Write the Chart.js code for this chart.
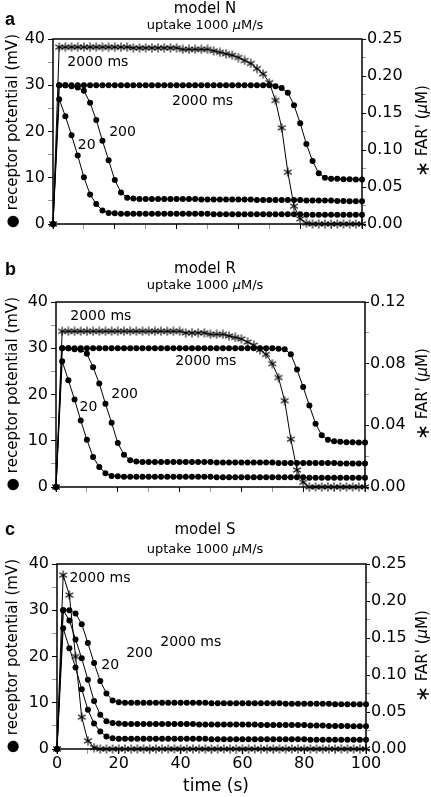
<!DOCTYPE html>
<html lang="en">
<head>
<meta charset="UTF-8">
<title>Receptor potential and FAR' - models N, R, S</title>
<script src="https://cdn.jsdelivr.net/npm/chart.js"></script>
<style>
  body { margin: 0; background: #fff; color: #000; font-family: 'DejaVu Sans', sans-serif; }
  #page { position: relative; width: 431px; height: 797px; overflow: hidden; }
  canvas { position: absolute; left: 0; }
  .txt { position: absolute; white-space: nowrap; line-height: 1; }
  .letter { font-family: 'Liberation Sans', Arial, sans-serif; font-weight: bold; font-size: 18px; left: 5px; }
  .title { font-size: 15px; width: 410px; left: 0; text-align: center; }
  .sub { font-size: 13px; width: 410px; left: 0; text-align: center; }
  .ytitle { font-size: 15px; width: 230px; height: 18px; line-height: 18px; text-align: center; transform: rotate(-90deg); }
  .ast { font-size: 19px; vertical-align: -2px; }
  .xtitle { font-size: 17px; width: 200px; left: 116px; top: 777px; text-align: center; }
</style>
</head>
<body>
<div id="page">
  <canvas id="panelA" width="431" height="245" style="top:0px"></canvas>
  <canvas id="panelB" width="431" height="245" style="top:262px"></canvas>
  <canvas id="panelC" width="431" height="275" style="top:522px"></canvas>

  <!-- panel a -->
  <div class="txt letter" style="top:10px">a</div>
  <div class="txt title" style="top:0.5px">model N</div>
  <div class="txt sub" style="top:18px">uptake 1000 <i>μ</i>M/s</div>
  <div class="txt ytitle" style="left:-103px;top:122px">● receptor potential (mV)</div>
  <div class="txt ytitle" style="left:307px;top:122px"><span class="ast">∗</span> FAR' (<i>μ</i>M)</div>

  <!-- panel b -->
  <div class="txt letter" style="top:260px">b</div>
  <div class="txt title" style="top:260.5px">model R</div>
  <div class="txt sub" style="top:278px">uptake 1000 <i>μ</i>M/s</div>
  <div class="txt ytitle" style="left:-103px;top:385px">● receptor potential (mV)</div>
  <div class="txt ytitle" style="left:307px;top:385px"><span class="ast">∗</span> FAR' (<i>μ</i>M)</div>

  <!-- panel c -->
  <div class="txt letter" style="top:520px">c</div>
  <div class="txt title" style="top:521.5px">model S</div>
  <div class="txt sub" style="top:541.5px">uptake 1000 <i>μ</i>M/s</div>
  <div class="txt ytitle" style="left:-103px;top:647px">● receptor potential (mV)</div>
  <div class="txt ytitle" style="left:307px;top:647px"><span class="ast">∗</span> FAR' (<i>μ</i>M)</div>
  <div class="txt xtitle">time (s)</div>
</div>

<script>
// time of each sample (s)
const TIME = [0, 2, 4, 6, 8, 10, 12, 14, 16, 18, 20, 22, 24, 26, 28, 30, 32, 34, 36, 38, 40,
  42, 44, 46, 48, 50, 52, 54, 56, 58, 60, 62, 64, 66, 68, 70, 72, 74, 76, 78, 80,
  82, 84, 86, 88, 90, 92, 94, 96, 98, 100];

// model N - receptor potential (mV) for 20, 200, 2000 ms stimuli, and FAR' (uM) for 2000 ms
const N_20 = [0, 27.0, 23.3, 19.2, 14.8, 10.1, 6.4, 4.3, 2.9, 2.4, 2.3,
  2.2, 2.2, 2.2, 2.2, 2.2, 2.2, 2.2, 2.2, 2.2, 2.2, 2.2, 2.2, 2.2, 2.2, 2.2,
  2.1, 2.1, 2.1, 2.1, 2.1, 2.1, 2.1, 2.1, 2.1, 2.1, 2.1, 2.1, 2.1, 2.1, 2.1,
  2.0, 2.0, 2.0, 2.0, 2.0, 2.0, 2.0, 2.0, 2.0, 2.0];
const N_200 = [0, 30.0, 30.0, 29.8, 29.5, 28.8, 26.2, 22.5, 18.0, 13.8, 9.5, 6.8, 5.7, 5.5,
  5.4, 5.4, 5.4, 5.4, 5.4, 5.4, 5.4, 5.4, 5.4, 5.4,
  5.3, 5.3, 5.3, 5.3, 5.3, 5.3, 5.3, 5.3, 5.3,
  5.2, 5.2, 5.2, 5.2, 5.2, 5.2, 5.2, 5.2,
  5.1, 5.1, 5.1, 5.1, 5.1, 5.0, 5.0, 4.9, 4.9, 4.9];
const N_2000 = [0, 30.0, 30.0, 30.0, 30.0, 30.0, 30.0, 30.0, 30.0, 30.0, 30.0,
  30.0, 30.0, 30.0, 30.0, 30.0, 30.0, 30.0, 30.0, 30.0, 30.0,
  30.0, 30.0, 30.0, 30.0, 30.0, 30.0, 30.0, 30.0, 30.0, 30.0,
  30.0, 30.0, 30.0, 30.0, 30.0,
  29.8, 29.4, 28.4, 25.7, 21.8, 17.3, 13.6, 11.0, 10.0, 9.8, 9.8, 9.7, 9.7, 9.6, 9.6];
const N_FAR = [0, 0.239, 0.239, 0.239, 0.239, 0.239, 0.239, 0.239, 0.239, 0.239, 0.239, 0.239, 0.239,
  0.238, 0.238, 0.238, 0.238, 0.238, 0.238, 0.238, 0.238,
  0.236, 0.236, 0.236, 0.236, 0.236,
  0.234, 0.232, 0.230, 0.228, 0.225, 0.221, 0.217, 0.210, 0.203, 0.191, 0.167, 0.130,
  0.070, 0.024, 0.007, 0.001,
  0, 0, 0, 0, 0, 0, 0, 0, 0];

// model R
const R_20 = [0, 27.2, 23.1, 18.9, 14.4, 10.2, 6.5, 4.3, 3.0, 2.4, 2.3,
  2.2, 2.2, 2.2, 2.2, 2.2, 2.2, 2.2, 2.2, 2.2, 2.2, 2.2, 2.2, 2.2, 2.2, 2.2,
  2.1, 2.1, 2.1, 2.1, 2.1, 2.1, 2.1, 2.1, 2.1, 2.1, 2.1, 2.1, 2.1, 2.1, 2.1,
  2.0, 2.0, 2.0, 2.0, 2.0, 2.0, 2.0, 2.0, 2.0, 2.0];
const R_200 = [0, 30.0, 30.0, 29.8, 29.7, 28.8, 25.9, 22.4, 18.0, 13.9, 9.5, 7.0, 5.8, 5.5,
  5.4, 5.4, 5.4, 5.4, 5.4, 5.4, 5.4, 5.4, 5.4, 5.4, 5.4, 5.4,
  5.3, 5.3, 5.3, 5.3, 5.3, 5.3, 5.3, 5.3, 5.3, 5.3,
  5.2, 5.2, 5.2, 5.2, 5.2, 5.2, 5.2, 5.2, 5.2, 5.2,
  5.1, 5.1, 5.1, 5.1, 5.1];
const R_2000 = [0, 30.0, 30.0, 30.0, 30.0, 30.0, 30.0, 30.0, 30.0, 30.0, 30.0,
  30.0, 30.0, 30.0, 30.0, 30.0, 30.0, 30.0, 30.0, 30.0, 30.0,
  30.0, 30.0, 30.0, 30.0, 30.0, 30.0, 30.0, 30.0, 30.0, 30.0,
  30.0, 30.0, 30.0, 30.0, 30.0,
  29.9, 29.8, 28.7, 25.4, 21.6, 17.6, 13.7, 11.2, 10.2, 9.9, 9.8, 9.7, 9.7, 9.6, 9.6];
const R_FAR = [0, 0.101, 0.101, 0.101, 0.101, 0.101, 0.101, 0.101, 0.101, 0.101, 0.101,
  0.101, 0.101, 0.101, 0.101, 0.101, 0.101, 0.101, 0.101, 0.101, 0.101,
  0.100, 0.100, 0.100, 0.100, 0.099, 0.099, 0.099,
  0.098, 0.097, 0.096, 0.094, 0.092, 0.089, 0.086, 0.080, 0.071, 0.056, 0.031, 0.011, 0.003,
  0, 0, 0, 0, 0, 0, 0, 0, 0, 0];

// model S
const S_20 = [0, 26.1, 21.8, 17.6, 12.9, 8.5, 5.5, 3.8, 2.7, 2.3, 2.2,
  2.2, 2.2, 2.2, 2.2, 2.2, 2.2, 2.2, 2.2, 2.2, 2.2, 2.2, 2.2, 2.2, 2.2,
  2.1, 2.1, 2.1, 2.1, 2.1, 2.1, 2.1, 2.1, 2.1, 2.1, 2.1, 2.1, 2.1, 2.1, 2.1, 2.1,
  2.0, 2.0, 2.0, 2.0, 2.0, 2.0, 2.0, 2.0, 2.0, 2.0];
const S_200 = [0, 30.0, 27.8, 23.7, 19.6, 15.0, 10.4, 7.4, 6.0, 5.6, 5.5,
  5.4, 5.4, 5.4, 5.4, 5.4, 5.4, 5.4, 5.4, 5.4, 5.4, 5.4, 5.4,
  5.3, 5.3, 5.3, 5.3, 5.3, 5.3, 5.3, 5.3, 5.3, 5.3,
  5.2, 5.2, 5.2, 5.2, 5.2, 5.2, 5.2, 5.2,
  5.1, 5.1, 5.1, 5.0, 5.0, 5.0, 5.0, 4.9, 4.9, 4.9];
const S_2000 = [0, 30.0, 30.0, 29.3, 27.0, 22.9, 18.6, 14.7, 12.0, 10.5, 10.1,
  10.0, 10.0, 10.0, 10.0, 10.0, 10.0, 10.0, 10.0, 10.0, 10.0, 10.0, 10.0, 10.0, 10.0,
  9.9, 9.9, 9.9, 9.9, 9.9, 9.9, 9.9, 9.9, 9.9, 9.9, 9.9, 9.9,
  9.8, 9.8, 9.8, 9.8, 9.8, 9.8, 9.8, 9.8,
  9.7, 9.7, 9.7, 9.7, 9.7, 9.7];
const S_FAR = [0, 0.235, 0.208, 0.125, 0.043, 0.011, 0.002,
  0, 0, 0, 0, 0, 0, 0, 0, 0, 0, 0, 0, 0, 0, 0, 0, 0, 0, 0, 0, 0, 0,
  0, 0, 0, 0, 0, 0, 0, 0, 0, 0, 0, 0, 0, 0, 0, 0, 0, 0, 0, 0, 0, 0];

Chart.defaults.font.family = "'DejaVu Sans', sans-serif";
Chart.defaults.color = '#000';

// six-spoke asterisk marker used for FAR'
function asteriskMarker(size) {
  const c = document.createElement('canvas');
  c.width = c.height = size;
  const g = c.getContext('2d');
  const r = size / 2 - 0.5;
  g.strokeStyle = '#000';
  g.lineWidth = 1.1;
  g.translate(size / 2, size / 2);
  for (let k = 0; k < 3; k++) {
    const a = Math.PI / 2 + k * Math.PI / 3;
    g.beginPath();
    g.moveTo(Math.cos(a) * r, Math.sin(a) * r);
    g.lineTo(-Math.cos(a) * r, -Math.sin(a) * r);
    g.stroke();
  }
  return c;
}
const STAR = asteriskMarker(10);

// frame around the plot + curve labels
const panelDecor = {
  id: 'panelDecor',
  beforeDatasetsDraw(chart) {
    const { ctx, chartArea: a } = chart;
    ctx.save();
    ctx.strokeStyle = '#000';
    ctx.lineWidth = 1.5;
    ctx.strokeRect(a.left, a.top, a.right - a.left, a.bottom - a.top);
    ctx.restore();
  },
  afterDatasetsDraw(chart, args, opts) {
    const { ctx, scales } = chart;
    ctx.save();
    ctx.fillStyle = '#000';
    ctx.font = "14px 'DejaVu Sans'";
    ctx.textAlign = 'center';
    ctx.textBaseline = 'middle';
    (opts.items || []).forEach(l => {
      ctx.fillText(l.text, scales.x.getPixelForValue(l.t), scales.y.getPixelForValue(l.v));
    });
    ctx.restore();
  }
};
Chart.register(panelDecor);

const TICK_FONT = { size: 16 };

function series(vals, far) {
  return {
    data: TIME.map((t, i) => ({ x: t, y: vals[i] })),
    yAxisID: far ? 'y1' : 'y',
    borderColor: '#000',
    borderWidth: 1,
    backgroundColor: '#000',
    pointStyle: far ? STAR : 'circle',
    pointRadius: far ? 5 : 3,
    pointBorderWidth: 0,
    tension: 0,
    clip: 6
  };
}

function buildPanel(id, p) {
  new Chart(document.getElementById(id), {
    type: 'line',
    data: {
      datasets: [series(p.r20), series(p.r200), series(p.r2000), series(p.far, true)]
    },
    options: {
      responsive: false,
      animation: false,
      layout: { padding: { top: p.top, left: 0, right: 0, bottom: 0 } },
      plugins: {
        legend: { display: false },
        tooltip: { enabled: false },
        panelDecor: { items: p.labels }
      },
      scales: {
        x: {
          type: 'linear', min: 0, max: 100,
          afterFit: s => { s.height = p.xHeight; },
          border: { display: false },
          grid: {
            drawOnChartArea: false, drawTicks: true, tickLength: 5,
            tickColor: c => (c.tick && c.tick.value % 20 === 0) ? '#000' : '#999'
          },
          ticks: {
            stepSize: 10, autoSkip: false, maxRotation: 0, padding: 0, font: TICK_FONT,
            callback: v => (p.xLabels && v % 20 === 0) ? String(v) : ''
          }
        },
        y: {
          position: 'left', min: 0, max: 40,
          afterFit: s => { s.width = p.left; },
          border: { display: false },
          grid: {
            drawOnChartArea: false, drawTicks: true, tickLength: 5,
            tickColor: c => (c.tick && c.tick.value % 10 === 0) ? '#000' : '#999'
          },
          ticks: {
            stepSize: 5, autoSkip: false, padding: 3, font: TICK_FONT,
            callback: v => (v % 10 === 0) ? String(v) : ''
          }
        },
        y1: {
          position: 'right', min: 0, max: p.farMax,
          afterFit: s => { s.width = 431 - p.right; },
          border: { display: false },
          grid: {
            drawOnChartArea: false, drawTicks: true, tickLength: 4,
            tickColor: c => (c.tick && Math.round(c.tick.value / p.farStep * 2) % 2 === 0) ? '#000' : '#999'
          },
          ticks: {
            stepSize: p.farStep / 2, autoSkip: false, padding: 1, font: TICK_FONT,
            callback: v => (Math.round(v / p.farStep * 2) % 2 === 0) ? v.toFixed(2) : ''
          }
        }
      }
    }
  });
}

buildPanel('panelA', {
  r20: N_20, r200: N_200, r2000: N_2000, far: N_FAR,
  farMax: 0.25, farStep: 0.05,
  top: 39, left: 53, right: 362, xHeight: 21, xLabels: false,
  labels: [
    { text: '2000 ms', t: 14.5, v: 35.0 },
    { text: '2000 ms', t: 48.4, v: 26.5 },
    { text: '200', t: 22.5, v: 19.9 },
    { text: '20', t: 10.9, v: 16.9 }
  ]
});

buildPanel('panelB', {
  r20: R_20, r200: R_200, r2000: R_2000, far: R_FAR,
  farMax: 0.12, farStep: 0.04,
  top: 40, left: 56, right: 365, xHeight: 20, xLabels: false,
  labels: [
    { text: '2000 ms', t: 14.5, v: 36.8 },
    { text: '2000 ms', t: 48.5, v: 27.2 },
    { text: '200', t: 22.2, v: 20.1 },
    { text: '20', t: 10.5, v: 17.2 }
  ]
});

buildPanel('panelC', {
  r20: S_20, r200: S_200, r2000: S_2000, far: S_FAR,
  farMax: 0.25, farStep: 0.05,
  top: 42, left: 57, right: 366, xHeight: 48, xLabels: true,
  labels: [
    { text: '2000 ms', t: 13.9, v: 36.8 },
    { text: '2000 ms', t: 43.3, v: 23.1 },
    { text: '200', t: 26.7, v: 20.6 },
    { text: '20', t: 17.2, v: 18.0 }
  ]
});
</script>
</body>
</html>
